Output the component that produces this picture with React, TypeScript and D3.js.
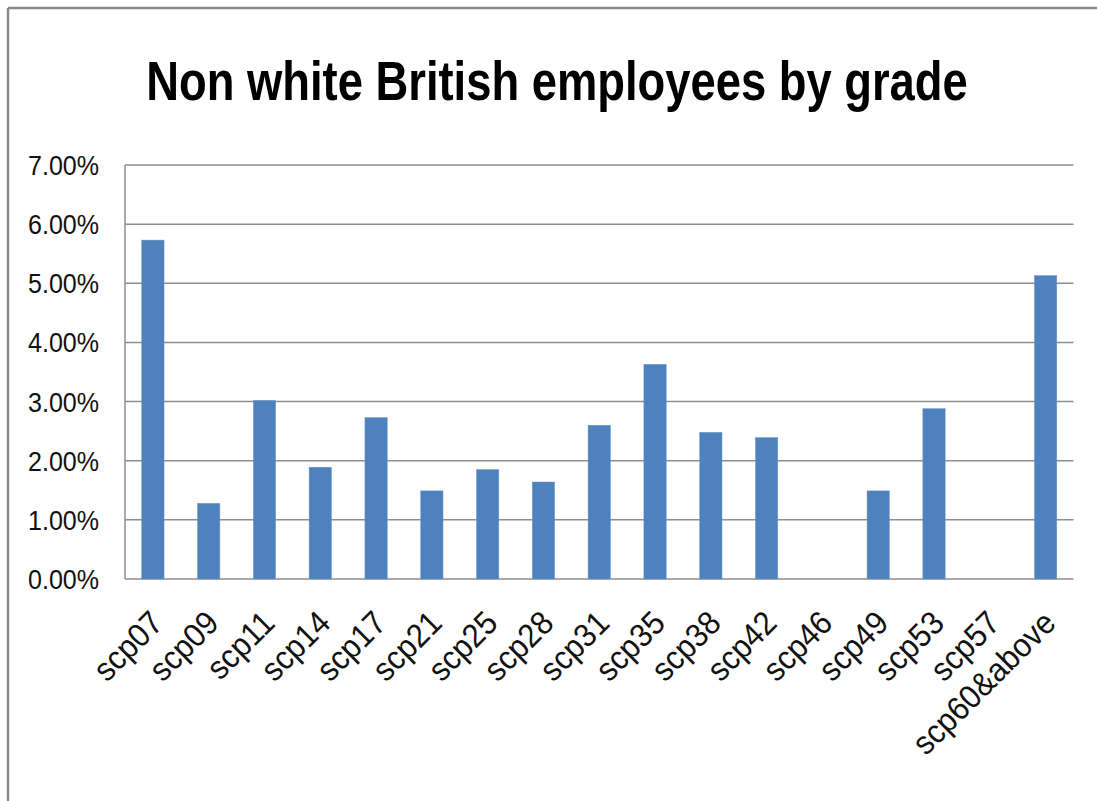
import React from "react";
import * as d3 from "d3";

const categories = ["scp07", "scp09", "scp11", "scp14", "scp17", "scp21", "scp25", "scp28", "scp31", "scp35", "scp38", "scp42", "scp46", "scp49", "scp53", "scp57", "scp60&above"];
const values = [5.73, 1.28, 3.02, 1.89, 2.73, 1.49, 1.85, 1.64, 2.6, 3.63, 2.48, 2.39, 0, 1.49, 2.88, 0, 5.13];
const yTicks = [0, 1, 2, 3, 4, 5, 6, 7];
const title = "Non white British employees by grade";

const W = 1097;
const H = 801;
const plot = { left: 125, right: 1073.5, top: 165, bottom: 579 };
const font = "'Liberation Sans', Arial, sans-serif";
const barColor = "#4F81BD";
const gridColor = "#8e8e8e";

export default function App() {
  const x = d3
    .scaleBand<string>()
    .domain(categories)
    .range([plot.left, plot.right])
    .paddingInner(0.6)
    .paddingOuter(0.3);
  const y = d3.scaleLinear().domain([0, 7]).range([plot.bottom, plot.top]);

  return (
    <svg
      width={W}
      height={H}
      style={{ position: "absolute", left: 0, top: 0, background: "#fff" }}
    >
      <rect x={0} y={0} width={W} height={H} fill="#fff" />
      <line x1={8} y1={8} x2={W} y2={8} stroke="#8a8a8a" strokeWidth={2.5} />
      <line x1={8} y1={8} x2={8} y2={H} stroke="#8a8a8a" strokeWidth={2.5} />

      <g transform="translate(557,100) scale(0.81,1)">
        <text
          x={0}
          y={0}
          textAnchor="middle"
          fontFamily={font}
          fontWeight="bold"
          fontSize={56}
          fill="#000"
        >
          {title}
        </text>
      </g>

      {yTicks.map((t) => (
        <line
          key={"g" + t}
          x1={plot.left}
          x2={plot.right}
          y1={y(t)}
          y2={y(t)}
          stroke={gridColor}
          strokeWidth={1.5}
        />
      ))}
      <line
        x1={plot.left}
        x2={plot.left}
        y1={plot.top}
        y2={plot.bottom}
        stroke={gridColor}
        strokeWidth={1.5}
      />

      {yTicks.map((t) => (
        <text
          key={"yl" + t}
          x={99}
          y={y(t) + 10}
          textAnchor="end"
          fontFamily={font}
          fontSize={28}
          textLength={71}
          lengthAdjust="spacingAndGlyphs"
          fill="#111"
        >
          {t.toFixed(2) + "%"}
        </text>
      ))}

      {categories.map((c, i) => (
        <rect
          key={"b" + c}
          x={x(c)}
          y={y(values[i])}
          width={x.bandwidth()}
          height={plot.bottom - y(values[i])}
          fill={barColor}
          stroke="#6f97c9"
          strokeWidth={0.5}
        />
      ))}

      {categories.map((c) => {
        const cx = (x(c) as number) + x.bandwidth() / 2;
        return (
          <text
            key={"xl" + c}
            transform={`translate(${cx + 12},${plot.bottom + 46}) rotate(-45) scale(0.93,1)`}
            textAnchor="end"
            fontFamily={font}
            fontSize={33}
            fill="#111"
          >
            {c}
          </text>
        );
      })}
    </svg>
  );
}
